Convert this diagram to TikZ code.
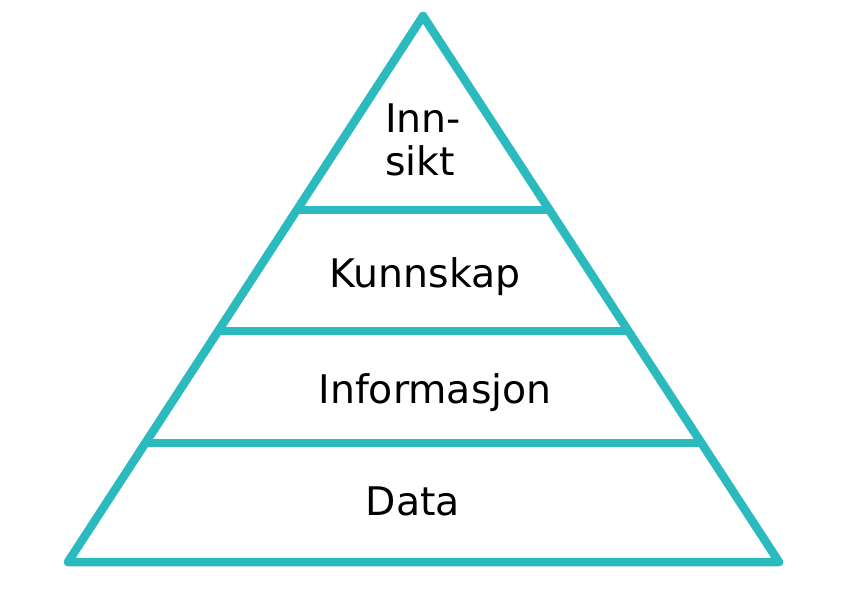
\documentclass[tikz,border=0pt]{standalone}
\usepackage{fontspec}
\setmainfont{DejaVu Sans}
\usetikzlibrary{calc}
\definecolor{teal1}{HTML}{2BBBBE}
\begin{document}
\begin{tikzpicture}[x=1pt,y=-1pt,
  edge/.style={draw=teal1,line width=8.5pt,line cap=round,line join=round},
  lbl/.style={font=\fontsize{39.4}{44}\selectfont,inner sep=0pt,anchor=base}]
\useasboundingbox (0,0) rectangle (859,597);
\coordinate (A) at (423,16);
\coordinate (L) at (68,562);
\coordinate (R) at (779,562);
\draw[edge] (A) -- (L) -- (R) -- cycle;
\coordinate (l1) at ($(A)!0.3553!(L)$);
\coordinate (r1) at ($(A)!0.3553!(R)$);
\coordinate (l2) at ($(A)!0.5769!(L)$);
\coordinate (r2) at ($(A)!0.5769!(R)$);
\coordinate (l3) at ($(A)!0.7821!(L)$);
\coordinate (r3) at ($(A)!0.7821!(R)$);
\draw[edge,line cap=butt] (l1) -- (r1);
\draw[edge,line cap=butt] (l2) -- (r2);
\draw[edge,line cap=butt] (l3) -- (r3);
\node[lbl,anchor=base west] (inn) at (385,132) {Inn-};
\node[lbl,anchor=base west] (sikt) at (385,175) {sikt};
\node[lbl] (kun) at (425,287) {Kunnskap};
\node[lbl] (inf) at (435,403) {Informasjon};
\node[lbl] (dat) at (413,515) {Data};
\end{tikzpicture}
\end{document}
